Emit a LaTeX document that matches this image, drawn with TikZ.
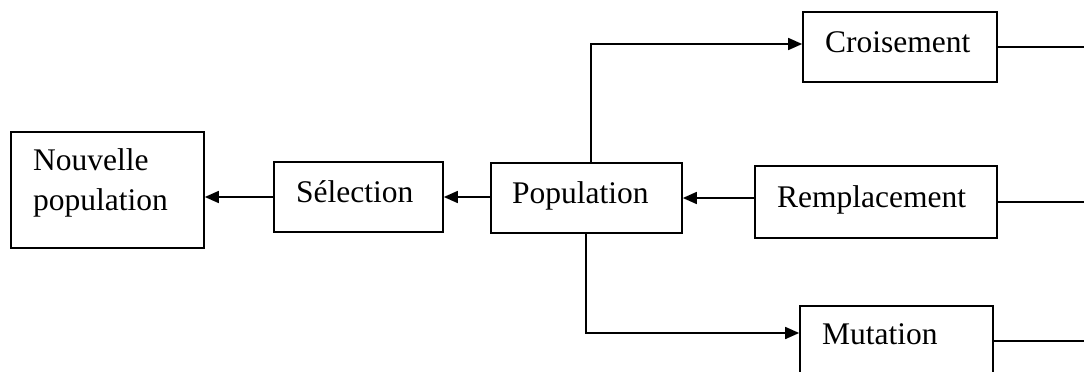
\documentclass[tikz,border=0pt]{standalone}
\usepackage{fontspec}
\setmainfont{Liberation Serif}
\usetikzlibrary{arrows.meta}
\begin{document}
\begin{tikzpicture}[x=1pt,y=-1pt,
  box/.style={draw, rectangle, line width=1.7pt, inner sep=0pt},
  lbl/.style={inner sep=0pt, anchor=base west, font=\fontsize{31.5}{38}\selectfont},
  link/.style={line width=1.7pt},
  arr/.style={link, -{Triangle[length=14pt,width=12pt]}}]
\clip (0,0) rectangle (1084,372);
\fill[white] (0,0) rectangle (1084,372);
% boxes
\node[box, minimum width=193pt, minimum height=116pt] (nouv) at (107.5,190) {};
\node[box, minimum width=169pt, minimum height=70pt] (sel) at (358.5,197) {};
\node[box, minimum width=191pt, minimum height=70pt] (pop) at (586.5,198) {};
\node[box, minimum width=194pt, minimum height=70pt] (croi) at (900,47) {};
\node[box, minimum width=242pt, minimum height=72pt] (remp) at (876,202) {};
\node[box, minimum width=193pt, minimum height=70pt] (mut) at (896.5,341) {};
% labels
\node[lbl] (nouvt1) at (33,170) {Nouvelle};
\node[lbl] (nouvt2) at (33,210) {population};
\node[lbl] (selt) at (296,202) {Sélection};
\node[lbl] (popt) at (512,203) {Population};
\node[lbl] (croit) at (825,52) {Croisement};
\node[lbl] (rempt) at (777,207) {Remplacement};
\node[lbl] (mutt) at (822,344) {Mutation};
% routing points
\coordinate (up) at (591,44);
\coordinate (down) at (586,333);
\coordinate (edge) at (1084,0);
% connectors
\draw[arr] (pop.west |- sel.east) -- (sel.east);
\draw[arr] (sel.west) -- (sel.west -| nouv.east);
\draw[arr] (remp.west |- pop.east) -- (pop.east);
\draw[arr] (pop.north -| up) -- (up) -- (up -| croi.west);
\draw[arr] (pop.south -| down) -- (down) -- (down -| mut.west);
\draw[link] (croi.east) -- (croi.east -| edge);
\draw[link] (remp.east) -- (remp.east -| edge);
\draw[link] (mut.east) -- (mut.east -| edge);
\end{tikzpicture}
\end{document}
